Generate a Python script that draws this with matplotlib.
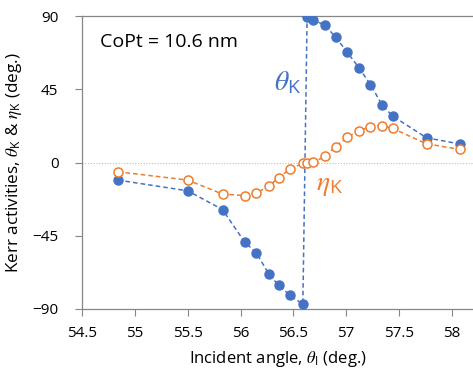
import matplotlib
matplotlib.use('Agg')
import matplotlib.pyplot as plt

# data
angle = [54.84, 55.5, 55.83, 56.04, 56.15, 56.27, 56.36, 56.47, 56.59, 56.63,
         56.69, 56.80, 56.90, 57.01, 57.12, 57.23, 57.34, 57.44, 57.76, 58.08]
theta_k = [-10.8, -17.4, -28.9, -49.0, -55.5, -68.8, -75.3, -81.7, -87.0, 89.1,
           87.7, 84.2, 77.0, 67.8, 58.2, 47.9, 35.3, 28.5, 15.2, 11.3]
eta_k = [-5.7, -10.8, -19.4, -20.3, -18.8, -14.3, -9.4, -3.9, -0.6, 0.0,
         0.2, 3.7, 9.8, 15.4, 19.5, 22.1, 22.5, 20.9, 11.5, 8.0]

xticks = [54.5, 55, 55.5, 56, 56.5, 57, 57.5, 58]
yticks = [-90, -45, 0, 45, 90]

blue = '#4472C4'
orange = '#ED7D31'
grey = '#868686'

plt.rcParams['font.family'] = ['Open Sans', 'DejaVu Sans']
plt.rcParams['mathtext.fontset'] = 'custom'
plt.rcParams['mathtext.rm'] = 'Open Sans'
plt.rcParams['mathtext.it'] = 'STIXGeneral:italic'

fig = plt.figure(figsize=(4.73, 3.71), dpi=100)
ax = fig.add_axes([82 / 473, 1 - 309 / 371, 1 - 82 / 473, 293 / 371])

ax.axhline(0, color='#BFBFBF', lw=0.8, ls=(0, (1, 1.5)), zorder=1)

ax.plot(angle, theta_k, color=blue, ls=(0, (3, 2)), lw=1.1, marker='o', ms=6.5,
        mfc=blue, mec=blue, zorder=3)
ax.plot(angle, eta_k, color=orange, ls=(0, (3, 2)), lw=1.1, marker='o', ms=6.5,
        mfc='white', mec=orange, mew=1.1, zorder=3)

ax.set_xlim(54.5, 58.2)
ax.set_ylim(-90, 90)
ax.set_xticks(xticks)
ax.set_xticklabels(['54.5', '55', '55.5', '56', '56.5', '57', '57.5', '58'])
ax.set_yticks(yticks)
ax.tick_params(axis='both', direction='out', length=5, width=0.8, color=grey,
               labelsize=11)
ax.tick_params(axis='y', pad=12)
ax.tick_params(axis='x', pad=7)

for side in ['left', 'bottom', 'top']:
    ax.spines[side].set_color(grey)
    ax.spines[side].set_linewidth(0.9)
ax.spines['right'].set_visible(False)

ax.text(54.67, 71, 'CoPt = 10.6 nm', fontsize=14, color='black')
ax.text(56.32, 44, r'$\theta_\mathrm{K}$', fontsize=20, color=blue)
ax.text(56.71, -17, r'$\eta_\mathrm{K}$', fontsize=20, color=orange)

ax.set_xlabel(r'Incident angle, $\theta_\mathrm{I}$ (deg.)', fontsize=12, labelpad=6)
ax.set_ylabel(r'Kerr activities, $\theta_\mathrm{K}$ & $\eta_\mathrm{K}$ (deg.)',
              fontsize=12.3, labelpad=6)

fig.savefig('out.png', dpi=100)
